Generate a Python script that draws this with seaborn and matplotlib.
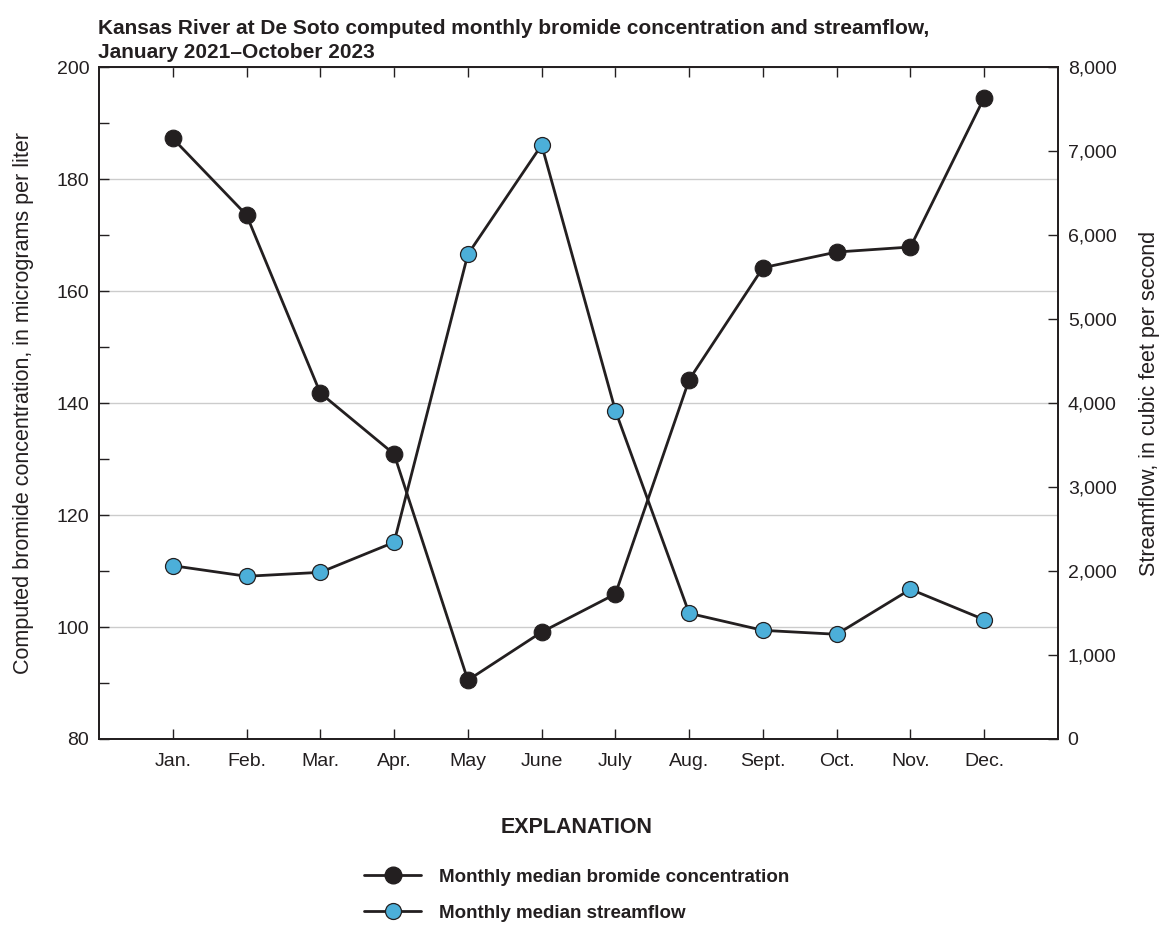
import seaborn as sns
import matplotlib.pyplot as plt
import matplotlib.ticker as mticker
from matplotlib.lines import Line2D
import pandas as pd

# Datos
meses = ['Jan.', 'Feb.', 'Mar.', 'Apr.', 'May', 'June',
         'July', 'Aug.', 'Sept.', 'Oct.', 'Nov.', 'Dec.']
bromuro = [187.3, 173.6, 141.8, 130.9, 90.5, 99.1,
           105.9, 144.2, 164.2, 167.0, 167.9, 194.6]
caudal = [2064, 1938, 1985, 2343, 5773, 7075,
          3910, 1497, 1294, 1247, 1783, 1421]

titulo = ('Kansas River at De Soto computed monthly bromide concentration and streamflow,\n'
          'January 2021\u2013October 2023')
etiqueta_izq = 'Computed bromide concentration, in micrograms per liter'
etiqueta_der = 'Streamflow, in cubic feet per second'
leyenda = ['Monthly median bromide concentration', 'Monthly median streamflow']

df = pd.DataFrame({'Mes': meses, 'Bromuro': bromuro, 'Caudal': caudal})

oscuro = '#231f20'
azul = '#4cafd9'

sns.set_style('white')
plt.rcParams['font.family'] = ['Liberation Sans Narrow', 'DejaVu Sans Condensed',
                               'Liberation Sans', 'DejaVu Sans']
plt.rcParams['axes.edgecolor'] = oscuro
plt.rcParams['text.color'] = oscuro
plt.rcParams['axes.labelcolor'] = oscuro
plt.rcParams['xtick.color'] = oscuro
plt.rcParams['ytick.color'] = oscuro

fig = plt.figure(figsize=(11.61, 9.30), dpi=100)
ax = fig.add_axes([0.0853, 0.2054, 0.8260, 0.7222])
ax2 = ax.twinx()

sns.lineplot(data=df, x='Mes', y='Bromuro', ax=ax, color=oscuro, linewidth=2.0,
             marker='o', markersize=12, markerfacecolor=oscuro,
             markeredgecolor=oscuro, markeredgewidth=0.8, sort=False)
sns.lineplot(data=df, x='Mes', y='Caudal', ax=ax2, color=oscuro, linewidth=2.0,
             marker='o', markersize=11.5, markerfacecolor=azul,
             markeredgecolor=oscuro, markeredgewidth=0.9, sort=False)

ax.set_xlim(-1, 12)
ax.set_ylim(80, 200)
ax2.set_ylim(0, 8000)

ax.yaxis.set_major_locator(mticker.MultipleLocator(20))
ax.yaxis.set_minor_locator(mticker.MultipleLocator(10))
ax2.yaxis.set_major_locator(mticker.MultipleLocator(1000))
ax2.yaxis.set_major_formatter(mticker.StrMethodFormatter('{x:,.0f}'))

ax.grid(axis='y', which='major', color='#cccccc', linewidth=1.0)
ax.grid(axis='x', visible=False)
ax2.grid(False)

for a in (ax, ax2):
    for s in a.spines.values():
        s.set_linewidth(1.3)
        s.set_color(oscuro)

ax.tick_params(axis='x', which='both', direction='in', length=7, width=1,
               top=True, bottom=True, labelsize=14, pad=10)
ax.tick_params(axis='y', which='both', direction='in', length=7, width=1,
               left=True, right=False, labelsize=14, pad=7)
ax2.tick_params(axis='y', direction='in', length=7, width=1, right=True,
                labelsize=14, pad=7)

ax.set_xlabel('')
ax.set_ylabel(etiqueta_izq, fontsize=15.5, labelpad=16)
ax2.set_ylabel(etiqueta_der, fontsize=15.5, labelpad=16)

fig.text(0.0845, 0.9335, titulo, fontsize=15, fontweight='bold',
         ha='left', va='bottom', linespacing=1.3)

manejadores = [
    Line2D([0], [0], color=oscuro, linewidth=2.0, marker='o', markersize=12,
           markerfacecolor=oscuro, markeredgecolor=oscuro),
    Line2D([0], [0], color=oscuro, linewidth=2.0, marker='o', markersize=11.5,
           markerfacecolor=azul, markeredgecolor=oscuro, markeredgewidth=0.9),
]
ley = fig.legend(manejadores, leyenda, loc='center', bbox_to_anchor=(0.497, 0.065),
                 frameon=False, title='EXPLANATION', handlelength=3.0,
                 handletextpad=1.0, labelspacing=1.0,
                 prop={'size': 13.5, 'weight': 'bold'},
                 title_fontproperties={'size': 15.5, 'weight': 'bold'})
ley._legend_box.sep = 22

fig.savefig('out.png', dpi=100)
